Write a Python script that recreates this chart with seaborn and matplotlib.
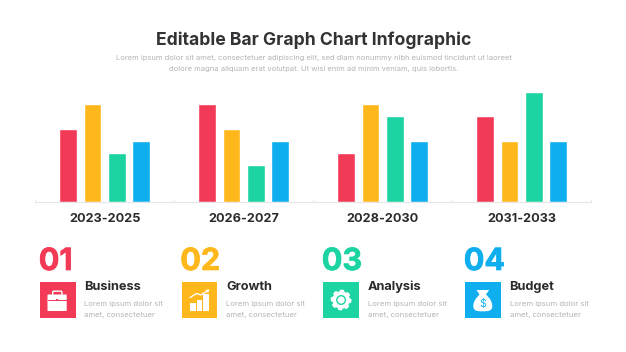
#!/usr/bin/env python3
#
# Editable bar graph infographic
#
import numpy as np
import pandas as pd
import matplotlib
matplotlib.use('Agg')
import matplotlib.pyplot as plt
import matplotlib.patheffects as pe
import seaborn as sns
from matplotlib.patches import Rectangle, FancyBboxPatch, Circle, Polygon, PathPatch
from matplotlib.path import Path

periods = ['2023-2025', '2026-2027', '2028-2030', '2031-2033']
business = [6, 8, 4, 7]
growth = [8, 6, 8, 5]
analysis = [4, 3, 7, 9]
budget = [5, 5, 5, 5]

names = ['Business', 'Growth', 'Analysis', 'Budget']
numbers = ['01', '02', '03', '04']
colors = ['#F23A57', '#FFB81C', '#1CD3A2', '#0EAEEF']

title = 'Editable Bar Graph Chart Infographic'
intro = ['Lorem ipsum dolor sit amet, consectetuer adipiscing elit, sed diam nonummy nibh euismod tincidunt ut laoreet',
         'dolore magna aliquam erat volutpat. Ut wisi enim ad minim veniam, quis lobortis.']
blurb = ['Lorem ipsum dolor sit', 'amet, consectetuer']

sns.set_theme(style='white')
plt.rcParams['font.family'] = ['Inter', 'DejaVu Sans']

W, H = 626, 352
fig = plt.figure(figsize=(W / 100, H / 100), dpi=100)

# Bars
df = pd.DataFrame({
    'period': periods * 4,
    'name': np.repeat(names, 4),
    'value': business + growth + analysis + budget,
})
ax = fig.add_axes([35.2 / W, 1 - 202.3 / H, 556 / W, 122 / H])
sns.barplot(data=df, x='period', y='value', hue='name', palette=colors,
            width=0.7, gap=0.28, saturation=1, legend=False, ax=ax)
ax.set_xlim(-0.5, 3.5)
ax.set_ylim(0, 122 / 12.28)
ax.set_xlabel(None)
ax.set_ylabel(None)
ax.set_yticks([])
sns.despine(ax=ax, left=True)
ax.spines['bottom'].set_color('#E6E6EA')
ax.spines['bottom'].set_linewidth(0.8)
ax.tick_params(axis='x', length=0, pad=8, labelsize=9.1, labelcolor='#2B2B2E')
for t in ax.get_xticklabels():
    t.set_fontweight('bold')
ax.set_xticks(np.arange(-0.5, 4), minor=True)
ax.tick_params(axis='x', which='minor', direction='in', length=2, width=0.6,
               color='#E6E6EA', bottom=True)

# Overlay in pixels for texts and icons
ov = fig.add_axes([0, 0, 1, 1], facecolor='none')
ov.set_xlim(0, W)
ov.set_ylim(H, 0)
ov.axis('off')

ov.text(313.3, 40, title, ha='center', va='center', fontsize=12.65,
        fontweight='bold', color='#333336')
for y, line in zip([58, 69.5], intro):
    ov.text(313.5, y, line, ha='center', va='center', fontsize=5.47, color='#B4B4B8')


def briefcase(x, y):
    ov.add_patch(FancyBboxPatch((x + 13.5, y + 10), 7.6, 3.5, boxstyle='round,pad=0.8', fc='none',
                                ec='white', lw=1.0))
    ov.add_patch(FancyBboxPatch((x + 8, y + 13), 18.2, 15.5, boxstyle='round,pad=0.5', fc='white',
                                ec='white', lw=0))
    ov.plot([x + 7.6, x + 26.6], [y + 18, y + 18], color=colors[0], lw=0.7)
    ov.add_patch(Rectangle((x + 15.9, y + 17.2), 2.4, 2, fc=colors[0], ec='none'))


def chart_icon(x, y):
    for dx, top in [(8.3, 21), (15, 18), (21.6, 12.3)]:
        ov.add_patch(Rectangle((x + dx, y + top), 5.7, 29 - top, fc='white', ec='none'))
    ov.plot([x + 8.3, x + 15, x + 19, x + 26], [y + 15.5, y + 11.5, y + 13, y + 8.8],
            color='white', lw=1.0)
    ov.add_patch(Polygon([[x + 27.8, y + 7.5], [x + 23.8, y + 7.8], [x + 26.3, y + 11]],
                         fc='white', ec='none'))


def gear(x, y):
    cx, cy = x + 17.8, y + 18
    ang = np.linspace(0, 2 * np.pi, 96, endpoint=False)
    rad = np.where(np.mod(ang + 0.13, 2 * np.pi / 8) < 2 * np.pi / 16, 9.8, 8.2)
    ov.add_patch(Polygon(np.c_[cx + rad * np.cos(ang), cy + rad * np.sin(ang)],
                         fc='white', ec='white', lw=0.8, joinstyle='round'))
    ov.add_patch(Circle((cx, cy), 5, fc=colors[2], ec='none'))
    ov.add_patch(Circle((cx, cy), 3.6, fc='white', ec='none'))


def money_bag(x, y):
    cx = x + 17.8
    verts = [(cx - 5, y + 8), (cx - 7.5, y + 7.5), (cx - 5.5, y + 9), (cx - 3.2, y + 12.5),
             (cx - 7, y + 16), (cx - 9.5, y + 20), (cx - 9.5, y + 24),
             (cx - 9.5, y + 29.3), (cx - 5, y + 29.3), (cx, y + 29.3),
             (cx + 5, y + 29.3), (cx + 9.5, y + 29.3), (cx + 9.5, y + 24),
             (cx + 9.5, y + 20), (cx + 7, y + 16), (cx + 3.2, y + 12.5),
             (cx + 5.5, y + 9), (cx + 7.5, y + 7.5), (cx + 5, y + 8), (cx - 5, y + 8)]
    codes = [Path.MOVETO] + [Path.CURVE4] * 18 + [Path.CLOSEPOLY]
    ov.add_patch(PathPatch(Path(verts, codes), fc='white', ec='none'))
    ov.text(cx, y + 21.5, '$', ha='center', va='center', fontsize=7.5, color=colors[3])


icons = [briefcase, chart_icon, gear, money_bag]
num_x = [38.8, 180.3, 321.8, 463.8]
box_x = [40, 181.7, 323.3, 465]
text_x = [84.2, 226, 367.6, 509.6]

# Bottom row
for i in range(4):
    ov.text(num_x[i], 262, numbers[i], ha='left', va='center', fontsize=22,
            fontweight='bold', color=colors[i],
            path_effects=[pe.withStroke(linewidth=0.5, foreground=colors[i])])
    ov.add_patch(Rectangle((box_x[i], 282), 35.6, 36, fc=colors[i], ec='none'))
    icons[i](box_x[i], 282)
    ov.text(text_x[i], 287, names[i], ha='left', va='center', fontsize=9.2,
            fontweight='bold', color='#2B2B2E')
    for y, line in zip([304, 315], blurb):
        ov.text(text_x[i] + 0.3, y, line, ha='left', va='center', fontsize=5.55, color='#B4B4B8')

fig.savefig('out.png', dpi=100)
